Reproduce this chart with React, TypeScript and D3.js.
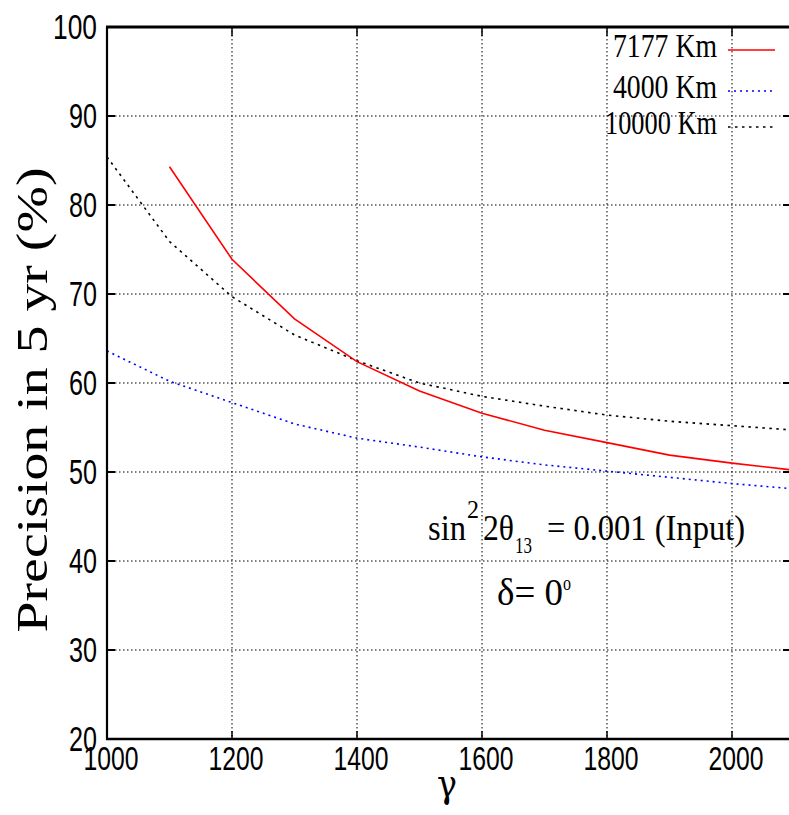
import React from "react";
import * as d3 from "d3";

const gammas = [1000, 1100, 1200, 1300, 1400, 1500, 1600, 1700, 1800, 1900, 2000, 2100];
const red7177: (number | null)[] = [null, 84.3, 73.9, 67.2, 62.4, 59.1, 56.6, 54.7, 53.3, 51.9, 51.0, 50.2];
const blue4000 = [63.6, 60.2, 57.8, 55.4, 53.8, 52.8, 51.7, 50.8, 50.1, 49.4, 48.7, 48.1];
const black10000 = [85.4, 75.9, 69.7, 65.4, 62.5, 60.0, 58.5, 57.4, 56.4, 55.7, 55.2, 54.7];

const xTicks = [1000, 1200, 1400, 1600, 1800, 2000];
const yTicks = [20, 30, 40, 50, 60, 70, 80, 90, 100];

const legendItems = [
  { label: "7177 Km", color: "#ff0000", dash: "none", width: 104 },
  { label: "4000 Km", color: "#0000ff", dash: "2,4", width: 104 },
  { label: "10000 Km", color: "#000000", dash: "2.5,4.5", width: 112 },
];

export default function App() {
  const W = 789, H = 815;
  const left = 107, bottom = 739, top = 27, right = 789;
  const x = d3.scaleLinear().domain([1000, 2100]).range([left, 794.5]);
  const y = d3.scaleLinear().domain([20, 100]).range([bottom, top]);

  const mk = (vals: (number | null)[]) =>
    d3
      .line<number>()
      .defined((_, i) => vals[i] != null)
      .x((g) => x(g))
      .y((_, i) => y(vals[i] as number))(gammas) || "";

  const serif = "'Liberation Serif', 'Times New Roman', serif";
  const sans = "'Liberation Sans', Arial, sans-serif";

  return (
    <div style={{ position: "absolute", left: 0, top: 0 }}>
      <svg width={W} height={H} style={{ display: "block", background: "#fff" }}>
        <defs>
          <clipPath id="plot">
            <rect x={left} y={top} width={right - left} height={bottom - top} />
          </clipPath>
        </defs>
        <rect x={0} y={0} width={W} height={H} fill="#fff" />
        {/* grid */}
        {xTicks.slice(1).map((t) => (
          <line key={"gx" + t} x1={x(t)} x2={x(t)} y1={top} y2={bottom} stroke="#000" strokeWidth={1} strokeDasharray="1.5,2.5" />
        ))}
        {yTicks.slice(1, -1).map((t) => (
          <line key={"gy" + t} x1={left} x2={right} y1={y(t)} y2={y(t)} stroke="#000" strokeWidth={1} strokeDasharray="1.5,2.5" />
        ))}
        {/* curves */}
        <g clipPath="url(#plot)" fill="none">
          <path d={mk(black10000)} stroke="#000" strokeWidth={1.6} strokeDasharray="2.5,4.5" />
          <path d={mk(blue4000)} stroke="#0000ff" strokeWidth={1.6} strokeDasharray="2,4" />
          <path d={mk(red7177)} stroke="#ff0000" strokeWidth={1.6} />
        </g>
        {/* ticks */}
        {yTicks.map((t) => (
          <g key={"ty" + t}>
            <line x1={left} x2={left + 8} y1={y(t)} y2={y(t)} stroke="#000" strokeWidth={2} />
            <line x1={right - 6} x2={right} y1={y(t)} y2={y(t)} stroke="#000" strokeWidth={2} />
            <text x={97} y={y(t) + 12} textAnchor="end" fontFamily={sans} fontSize={35}
              textLength={String(t).length === 3 ? 44 : 28} lengthAdjust="spacingAndGlyphs">{t}</text>
          </g>
        ))}
        {xTicks.map((t) => (
          <g key={"tx" + t}>
            <line x1={x(t)} x2={x(t)} y1={bottom} y2={bottom - 8} stroke="#000" strokeWidth={1.5} />
            <line x1={x(t)} x2={x(t)} y1={top} y2={top + 9} stroke="#000" strokeWidth={1.5} />
            <text x={x(t) + 4} y={770} textAnchor="middle" fontFamily={sans} fontSize={34}
              textLength={55} lengthAdjust="spacingAndGlyphs">{t}</text>
          </g>
        ))}
        {/* axes */}
        <line x1={left - 1} x2={right} y1={top} y2={top} stroke="#000" strokeWidth={3} />
        <line x1={left} x2={left} y1={top} y2={bottom + 1} stroke="#000" strokeWidth={2.2} />
        <line x1={left - 1} x2={right} y1={bottom} y2={bottom} stroke="#000" strokeWidth={2.6} />

        {/* legend */}
        {legendItems.map((it, i) => {
          const ly = [50, 91, 127][i];
          return (
            <g key={it.label}>
              <text x={717} y={ly + 7} textAnchor="end" fontFamily={serif} fontSize={34}
                textLength={it.width} lengthAdjust="spacingAndGlyphs">{it.label}</text>
              <line x1={728} x2={775} y1={ly} y2={ly} stroke={it.color} strokeWidth={1.6} strokeDasharray={it.dash} />
            </g>
          );
        })}

        {/* annotation */}
        <g fontFamily={serif} fill="#000">
          <text x={428} y={540} fontSize={36} textLength={38} lengthAdjust="spacingAndGlyphs">sin</text>
          <text x={467} y={518} fontSize={26} textLength={12} lengthAdjust="spacingAndGlyphs">2</text>
          <text x={483} y={540} fontSize={36} textLength={31} lengthAdjust="spacingAndGlyphs">2θ</text>
          <text x={515} y={553} fontSize={23} textLength={17} lengthAdjust="spacingAndGlyphs">13</text>
          <text x={547} y={540} fontSize={36} textLength={198} lengthAdjust="spacingAndGlyphs">= 0.001 (Input)</text>
          <text x={497} y={605} fontSize={37} textLength={66} lengthAdjust="spacingAndGlyphs">δ= 0</text>
          <text x={563} y={590} fontSize={20} textLength={8} lengthAdjust="spacingAndGlyphs">o</text>
        </g>

        {/* axis titles */}
        <text transform="translate(47,400) rotate(-90)" textAnchor="middle" fontFamily={serif} fontSize={44}
          textLength={465} lengthAdjust="spacingAndGlyphs">Precision in 5 yr (%)</text>
        <text x={447} y={797} textAnchor="middle" fontFamily="'DejaVu Serif', serif" fontSize={40}
          textLength={20} lengthAdjust="spacingAndGlyphs">γ</text>
      </svg>
    </div>
  );
}
